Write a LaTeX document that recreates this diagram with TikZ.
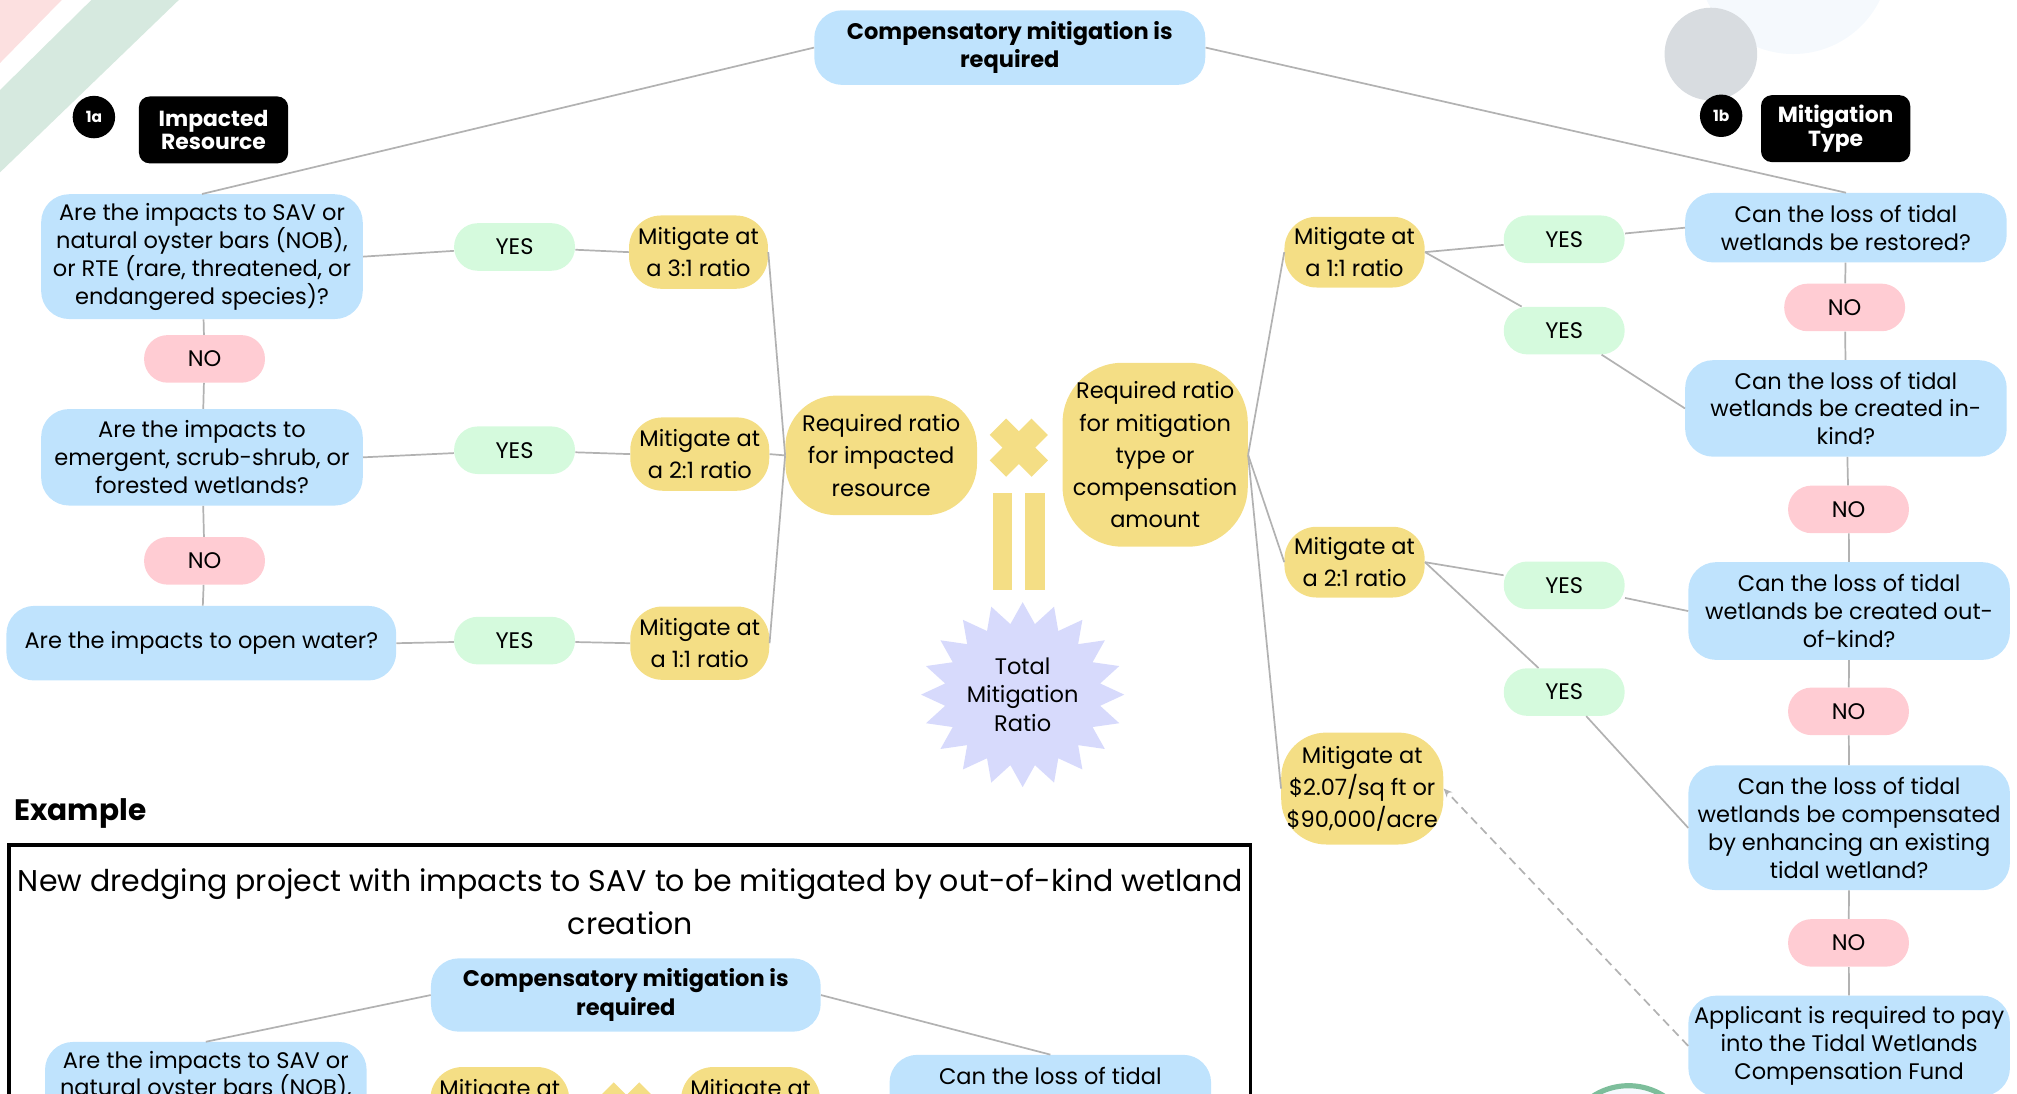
\documentclass[tikz,border=0pt]{standalone}
\usepackage{fontspec}
\setmainfont{Poppins}
\usetikzlibrary{arrows.meta}

\definecolor{qblue}{RGB}{191,227,253}
\definecolor{yesgreen}{RGB}{213,250,221}
\definecolor{nopink}{RGB}{255,204,211}
\definecolor{ratioyellow}{RGB}{244,222,133}
\definecolor{starlilac}{RGB}{215,218,252}
\definecolor{linkgrey}{RGB}{178,178,178}
\definecolor{stripepink}{RGB}{252,224,224}
\definecolor{stripegreen}{RGB}{214,233,223}
\definecolor{dotgrey}{RGB}{216,220,224}
\definecolor{dotpale}{RGB}{245,249,253}
\definecolor{ringgreen}{RGB}{125,190,155}

\begin{document}
\begin{tikzpicture}[x=1pt, y=-1pt, scale=0.6, every node/.style={transform shape}]
        \useasboundingbox (0,0) rectangle (1568,850);

        % styles
        \tikzstyle{question} = [rectangle, rounded corners=13pt, fill=qblue, align=center, inner sep=0pt, minimum width=250, font=\fontsize{17.5}{21.7}\selectfont]
        \tikzstyle{pill} = [rectangle, rounded corners=11pt, minimum width=94, minimum height=37, inner sep=0pt, font=\fontsize{17.5}{21}\selectfont]
        \tikzstyle{yesbox} = [pill, fill=yesgreen]
        \tikzstyle{nobox} = [pill, fill=nopink]
        \tikzstyle{ratiobox} = [rectangle, rounded corners=15pt, fill=ratioyellow, align=center, inner sep=0pt, minimum width=108, minimum height=57, font=\fontsize{17.5}{25}\selectfont]
        \tikzstyle{badge} = [rectangle, rounded corners=5pt, fill=black, text=white, align=center, inner sep=0pt, minimum width=116, minimum height=52, font=\bfseries\fontsize{17}{18}\selectfont]
        \tikzstyle{numdot} = [circle, fill=black, text=white, inner sep=0pt, minimum size=33, font=\bfseries\fontsize{12}{13}\selectfont]
        \tikzstyle{link} = [draw=linkgrey, line width=0.8pt]

        % 0. background shapes
        \fill[stripepink] (0,0) -- (48,0) -- (0,49) -- cycle;
        \fill[stripegreen] (71,0) -- (139,0) -- (0,134) -- (0,70) -- cycle;
        \fill[dotpale] (1394,-33) circle (75);
        \fill[dotgrey] (1330,42) circle (36);
        \draw[ringgreen, line width=2.4pt, fill=dotpale] (1266,895) circle (51);

        % 1. top node and headings
        \node[question, minimum width=304, minimum height=58, font=\bfseries\fontsize{17.5}{22}\selectfont] (top) at (785,37) {Compensatory mitigation is\\required};
        \node[numdot] (n1a) at (73,91) {1a};
        \node[badge] (impacted) at (166,101) {Impacted\\Resource};
        \node[numdot] (n1b) at (1338,90) {1b};
        \node[badge] (mtype) at (1427,100) {Mitigation\\Type};

        % 2. impacted resource (left)
        \node[question, minimum height=97] (q1) at (157,199.5) {Are the impacts to SAV or\\natural oyster bars (NOB),\\or RTE (rare, threatened, or\\endangered species)?};
        \node[nobox] (no1) at (159,279) {NO};
        \node[question, minimum height=75] (q2) at (157,355.5) {Are the impacts to\\emergent, scrub-shrub, or\\forested wetlands?};
        \node[nobox] (no2) at (159,436) {NO};
        \node[question, minimum width=303, minimum height=58] (q3) at (156.5,500) {Are the impacts to open water?};

        \node[yesbox] (y1) at (400,192) {YES};
        \node[yesbox] (y2) at (400,350) {YES};
        \node[yesbox] (y3) at (400,498) {YES};

        \node[ratiobox] (m31) at (543,196) {Mitigate at\\a 3:1 ratio};
        \node[ratiobox] (m21) at (544,353) {Mitigate at\\a 2:1 ratio};
        \node[ratiobox] (m11) at (544,500) {Mitigate at\\a 1:1 ratio};

        \node[ratiobox, rounded corners=24pt, minimum width=149, minimum height=93] (rl) at (685,354) {Required ratio\\for impacted\\resource};

        % 3. times, equals and total
        \node[fill=ratioyellow, minimum width=46, minimum height=18, inner sep=0pt, rotate=45] (timesa) at (792,348) {};
        \node[fill=ratioyellow, minimum width=46, minimum height=18, inner sep=0pt, rotate=-45] (timesb) at (792,348) {};
        \fill[ratioyellow] (772,383) rectangle (787,459);
        \fill[ratioyellow] (797,383) rectangle (812,459);
        \fill[starlilac, shift={(795,540)}, yscale=0.91] (90:79)
            \foreach \k in {1,...,39} { -- ({90+9*\k}:{ifthenelse(mod(\k,2)==0,79,61)}) } -- cycle;
        \node[align=center, font=\fontsize{17.5}{22}\selectfont] (total) at (795,540) {Total\\Mitigation\\Ratio};

        % 4. mitigation type (right)
        \node[ratiobox, rounded corners=28pt, minimum width=144, minimum height=143] (rr) at (898,353.5) {Required ratio\\for mitigation\\type or\\compensation\\amount};

        \node[ratiobox, minimum width=109, minimum height=55] (mr1) at (1053,196) {Mitigate at\\a 1:1 ratio};
        \node[ratiobox, minimum width=109, minimum height=55] (mr2) at (1053,437) {Mitigate at\\a 2:1 ratio};
        \node[ratiobox, rounded corners=21pt, minimum width=126, minimum height=87] (mr3) at (1059,613) {Mitigate at\\\$2.07/sq ft or\\\$90,000/acre};

        \node[yesbox] (ya) at (1216,186) {YES};
        \node[yesbox] (yb) at (1216,257) {YES};
        \node[yesbox] (yc) at (1216,455) {YES};
        \node[yesbox] (yd) at (1216,538) {YES};

        \node[question, minimum height=54] (r1) at (1435,177) {Can the loss of tidal\\wetlands be restored?};
        \node[nobox] (nr1) at (1434,239) {NO};
        \node[question, minimum height=75] (r2) at (1435,317.5) {Can the loss of tidal\\wetlands be created in-\\kind?};
        \node[nobox] (nr2) at (1437,396) {NO};
        \node[question, minimum height=76] (r3) at (1437.5,475) {Can the loss of tidal\\wetlands be created out-\\of-kind?};
        \node[nobox] (nr3) at (1437,553) {NO};
        \node[question, minimum height=97] (r4) at (1437.5,643.5) {Can the loss of tidal\\wetlands be compensated\\by enhancing an existing\\tidal wetland?};
        \node[nobox] (nr4) at (1437,733) {NO};
        \node[question, minimum height=78] (r5) at (1437.5,813) {Applicant is required to pay\\into the Tidal Wetlands\\Compensation Fund};

        % 5. connectors
        \draw[link] (top.west) -- (q1.north);
        \draw[link] (top.east) -- (r1.north);
        \draw[link] (q1) -- (no1) -- (q2) -- (no2) -- (q3);
        \draw[link] (q1.east) -- (y1) -- (m31.west);
        \draw[link] (q2.east) -- (y2) -- (m21.west);
        \draw[link] (q3.east) -- (y3) -- (m11.west);
        \draw[link] (m31.east) -- (rl.west);
        \draw[link] (m21.east) -- (rl.west);
        \draw[link] (m11.east) -- (rl.west);
        \draw[link] (rr.east) -- (mr1.west);
        \draw[link] (rr.east) -- (mr2.west);
        \draw[link] (rr.east) -- (mr3.west);
        \draw[link] (mr1.east) -- (ya) -- (r1.west);
        \draw[link] (mr1.east) -- (yb) -- (r2.west);
        \draw[link] (mr2.east) -- (yc) -- (r3.west);
        \draw[link] (mr2.east) -- (yd) -- (r4.west);
        \draw[link] (r1) -- (nr1) -- (r2) -- (nr2) -- (r3) -- (nr3) -- (r4) -- (nr4) -- (r5);
        \draw[link, dash pattern=on 4pt off 2.5pt, -{Stealth[length=4pt, width=3.5pt]}] (r5.west) -- (mr3.east);

        % 6. example
        \node[anchor=west, inner sep=0pt, font=\bfseries\fontsize{23}{27}\selectfont] (extitle) at (11,632) {Example};
        \draw[line width=1.6pt] (7,657) rectangle (972,900);
        \node[align=center, font=\fontsize{23.3}{34}\selectfont] (excase) at (490,701) {New dredging project with impacts to SAV to be mitigated by out-of-kind wetland\\creation};
        \node[question, minimum width=303, minimum height=57, font=\bfseries\fontsize{17.5}{22}\selectfont] (extop) at (486.5,773.5) {Compensatory mitigation is\\required};
        \node[question, minimum height=97] (exq1) at (160,858.5) {Are the impacts to SAV or\\natural oyster bars (NOB),\\or RTE (rare, threatened, or\\endangered species)?};
        \node[ratiobox] (exm1) at (388.5,858) {Mitigate at\\a 3:1 ratio};
        \node[fill=ratioyellow, minimum width=46, minimum height=18, inner sep=0pt, rotate=45] (extimesa) at (487,864) {};
        \node[fill=ratioyellow, minimum width=46, minimum height=18, inner sep=0pt, rotate=-45] (extimesb) at (487,864) {};
        \node[ratiobox] (exm2) at (583.5,858) {Mitigate at\\a 2:1 ratio};
        \node[question, minimum height=76] (exr) at (816.5,858) {Can the loss of tidal\\wetlands be created out-\\of-kind?};
        \draw[link] (extop.west) -- (exq1.north);
        \draw[link] (extop.east) -- (exr.north);

    \end{tikzpicture}
\end{document}
